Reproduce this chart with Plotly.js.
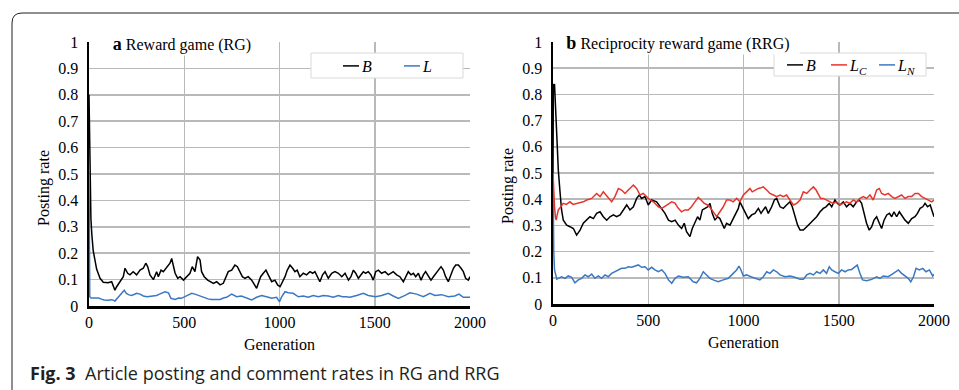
<!DOCTYPE html>
<html>
<head>
<meta charset="utf-8">
<script src="https://cdn.plot.ly/plotly-3.0.1.min.js"></script>
<style>html,body{margin:0;padding:0;background:#fff;}#chart{width:959px;height:390px;}</style>
</head>
<body>
<div id="chart"></div>
<script>
// ---- Data: [generation, posting rate] pairs ----
const rgB = [[0,0.80],[3,0.62],[6,0.45],[10,0.33],[15,0.27],[22,0.21],[31,0.175],[40,0.14],[50,0.12],[58,0.105],[75,0.09],[100,0.088],[119,0.092],[136,0.06],[145,0.073],[163,0.092],[180,0.111],[189,0.143],[203,0.124],[215,0.118],[232,0.13],[250,0.118],[268,0.136],[285,0.143],[298,0.162],[308,0.149],[320,0.118],[338,0.10],[355,0.13],[364,0.111],[378,0.136],[390,0.13],[408,0.149],[425,0.162],[434,0.18],[443,0.155],[452,0.124],[466,0.105],[478,0.111],[496,0.098],[513,0.111],[530,0.124],[542,0.149],[556,0.13],[570,0.187],[583,0.174],[591,0.13],[605,0.111],[623,0.098],[635,0.092],[653,0.086],[670,0.092],[688,0.08],[705,0.086],[719,0.111],[731,0.13],[749,0.136],[766,0.155],[779,0.149],[793,0.13],[805,0.111],[819,0.105],[836,0.111],[854,0.098],[868,0.08],[880,0.067],[889,0.086],[901,0.111],[915,0.124],[929,0.136],[941,0.118],[959,0.092],[976,0.098],[990,0.08],[1003,0.073],[1017,0.092],[1029,0.111],[1041,0.136],[1055,0.155],[1069,0.143],[1081,0.13],[1093,0.136],[1107,0.111],[1125,0.124],[1142,0.118],[1160,0.13],[1174,0.124],[1186,0.13],[1198,0.111],[1212,0.092],[1226,0.118],[1239,0.13],[1256,0.105],[1274,0.124],[1291,0.13],[1309,0.124],[1327,0.111],[1344,0.124],[1362,0.098],[1375,0.111],[1388,0.136],[1400,0.124],[1414,0.105],[1428,0.118],[1440,0.13],[1452,0.124],[1466,0.13],[1480,0.118],[1492,0.098],[1505,0.13],[1519,0.136],[1536,0.124],[1554,0.13],[1571,0.118],[1585,0.124],[1597,0.13],[1615,0.118],[1632,0.111],[1650,0.092],[1662,0.111],[1676,0.13],[1690,0.118],[1703,0.124],[1715,0.111],[1729,0.124],[1743,0.098],[1755,0.118],[1767,0.13],[1781,0.111],[1795,0.098],[1808,0.111],[1820,0.124],[1834,0.136],[1848,0.149],[1860,0.136],[1872,0.111],[1886,0.092],[1900,0.118],[1913,0.143],[1925,0.155],[1939,0.155],[1953,0.143],[1965,0.13],[1977,0.105],[1991,0.098],[2000,0.111]];

const rgL = [[0,0.5],[2,0.1],[4,0.035],[10,0.03],[30,0.029],[50,0.03],[65,0.026],[80,0.023],[100,0.022],[120,0.024],[136,0.019],[154,0.035],[171,0.048],[185,0.06],[196,0.048],[210,0.042],[224,0.04],[238,0.045],[250,0.048],[268,0.045],[285,0.038],[305,0.035],[329,0.038],[355,0.04],[370,0.045],[381,0.048],[399,0.054],[417,0.05],[430,0.029],[452,0.025],[470,0.03],[485,0.029],[504,0.035],[520,0.04],[539,0.048],[556,0.045],[575,0.04],[591,0.035],[610,0.029],[625,0.027],[643,0.025],[660,0.026],[688,0.025],[705,0.03],[722,0.033],[749,0.045],[775,0.035],[800,0.038],[828,0.029],[854,0.023],[880,0.033],[906,0.04],[932,0.035],[959,0.029],[985,0.033],[1000,0.016],[1011,0.035],[1029,0.054],[1046,0.05],[1072,0.048],[1099,0.035],[1125,0.038],[1151,0.033],[1177,0.04],[1204,0.035],[1230,0.04],[1256,0.038],[1282,0.033],[1309,0.04],[1330,0.035],[1350,0.035],[1370,0.033],[1405,0.04],[1440,0.048],[1466,0.04],[1505,0.035],[1536,0.04],[1571,0.048],[1597,0.038],[1624,0.029],[1659,0.04],[1685,0.05],[1720,0.045],[1755,0.035],[1790,0.048],[1816,0.04],[1851,0.043],[1886,0.035],[1920,0.038],[1942,0.045],[1965,0.033],[2000,0.033]];

const rrgB = [[0,0.5],[2,0.84],[5,0.82],[8,0.84],[12,0.76],[20,0.63],[28,0.51],[36,0.435],[45,0.359],[54,0.32],[72,0.301],[89,0.295],[107,0.288],[124,0.263],[142,0.282],[159,0.308],[177,0.32],[194,0.333],[212,0.326],[229,0.346],[247,0.352],[264,0.333],[282,0.32],[299,0.333],[317,0.34],[334,0.333],[352,0.34],[369,0.359],[387,0.378],[404,0.359],[422,0.371],[439,0.403],[453,0.416],[465,0.403],[483,0.41],[500,0.378],[518,0.397],[544,0.39],[562,0.371],[588,0.346],[606,0.32],[623,0.314],[641,0.32],[658,0.301],[675,0.288],[689,0.308],[701,0.276],[719,0.257],[731,0.288],[745,0.308],[759,0.333],[771,0.32],[784,0.359],[798,0.365],[812,0.371],[824,0.384],[836,0.346],[850,0.32],[864,0.333],[876,0.326],[889,0.308],[899,0.288],[911,0.308],[929,0.301],[946,0.326],[959,0.346],[973,0.365],[981,0.39],[994,0.371],[1008,0.352],[1025,0.326],[1043,0.34],[1060,0.346],[1078,0.365],[1092,0.346],[1104,0.359],[1116,0.371],[1130,0.346],[1148,0.371],[1162,0.397],[1174,0.403],[1192,0.371],[1209,0.365],[1226,0.378],[1244,0.39],[1256,0.371],[1270,0.333],[1284,0.301],[1297,0.282],[1314,0.282],[1332,0.295],[1349,0.308],[1367,0.32],[1384,0.333],[1402,0.352],[1419,0.365],[1433,0.371],[1450,0.384],[1463,0.371],[1480,0.397],[1493,0.384],[1506,0.378],[1524,0.39],[1541,0.371],[1559,0.384],[1576,0.371],[1594,0.39],[1608,0.397],[1620,0.384],[1632,0.346],[1646,0.308],[1660,0.282],[1673,0.295],[1685,0.32],[1699,0.333],[1713,0.308],[1725,0.288],[1738,0.32],[1752,0.34],[1766,0.346],[1778,0.333],[1790,0.352],[1804,0.333],[1818,0.352],[1830,0.34],[1848,0.32],[1865,0.308],[1883,0.326],[1900,0.333],[1913,0.346],[1927,0.365],[1941,0.371],[1953,0.384],[1966,0.371],[1980,0.378],[1992,0.352],[2000,0.333]];

const rrgLC = [[0,0.5],[3,0.42],[8,0.37],[13,0.33],[17,0.32],[22,0.34],[28,0.359],[40,0.37],[54,0.384],[70,0.38],[89,0.39],[105,0.38],[124,0.384],[140,0.388],[159,0.39],[177,0.397],[203,0.403],[229,0.422],[247,0.41],[264,0.428],[290,0.403],[308,0.39],[325,0.41],[343,0.441],[360,0.435],[378,0.422],[395,0.435],[422,0.454],[439,0.441],[457,0.416],[474,0.422],[492,0.41],[509,0.397],[527,0.39],[553,0.371],[571,0.365],[597,0.378],[623,0.39],[640,0.385],[658,0.365],[675,0.352],[692,0.359],[710,0.359],[727,0.371],[745,0.39],[762,0.407],[777,0.397],[794,0.384],[812,0.378],[829,0.365],[847,0.346],[859,0.333],[876,0.352],[894,0.371],[911,0.397],[929,0.397],[946,0.39],[964,0.403],[981,0.39],[999,0.416],[1016,0.428],[1034,0.441],[1046,0.428],[1060,0.435],[1078,0.441],[1092,0.444],[1104,0.447],[1122,0.435],[1139,0.422],[1157,0.416],[1174,0.41],[1192,0.416],[1209,0.41],[1226,0.416],[1244,0.397],[1262,0.378],[1279,0.384],[1297,0.397],[1314,0.428],[1332,0.422],[1349,0.435],[1367,0.447],[1381,0.435],[1393,0.416],[1405,0.403],[1419,0.403],[1436,0.397],[1454,0.39],[1471,0.384],[1489,0.39],[1506,0.378],[1524,0.384],[1541,0.39],[1559,0.384],[1576,0.397],[1594,0.39],[1611,0.403],[1629,0.41],[1646,0.403],[1664,0.416],[1681,0.397],[1699,0.435],[1713,0.441],[1725,0.422],[1743,0.416],[1760,0.422],[1778,0.41],[1795,0.403],[1813,0.41],[1830,0.416],[1848,0.403],[1865,0.41],[1883,0.41],[1900,0.422],[1918,0.422],[1935,0.41],[1953,0.403],[1970,0.397],[1988,0.39],[2000,0.397]];

const rrgLN = [[0,0.5],[2,0.3],[4,0.2],[8,0.13],[14,0.105],[20,0.095],[28,0.098],[45,0.104],[63,0.098],[80,0.107],[98,0.102],[115,0.081],[133,0.092],[150,0.098],[168,0.111],[185,0.104],[203,0.114],[220,0.098],[238,0.107],[255,0.098],[273,0.111],[290,0.104],[308,0.117],[325,0.123],[343,0.132],[360,0.136],[378,0.136],[395,0.142],[413,0.14],[430,0.145],[448,0.149],[465,0.14],[483,0.142],[500,0.13],[518,0.14],[535,0.13],[553,0.123],[571,0.13],[588,0.117],[606,0.092],[623,0.079],[641,0.098],[658,0.107],[684,0.102],[710,0.104],[736,0.085],[754,0.081],[771,0.098],[789,0.123],[806,0.111],[824,0.098],[841,0.092],[867,0.085],[894,0.092],[920,0.098],[946,0.117],[964,0.13],[976,0.145],[987,0.13],[999,0.107],[1016,0.111],[1039,0.104],[1060,0.098],[1086,0.092],[1104,0.104],[1122,0.123],[1139,0.117],[1157,0.13],[1174,0.123],[1192,0.111],[1218,0.104],[1244,0.107],[1270,0.102],[1297,0.094],[1314,0.094],[1332,0.111],[1349,0.117],[1367,0.111],[1384,0.123],[1402,0.117],[1419,0.13],[1436,0.117],[1450,0.142],[1463,0.13],[1480,0.123],[1498,0.117],[1515,0.13],[1533,0.123],[1550,0.13],[1568,0.132],[1585,0.142],[1597,0.149],[1611,0.117],[1625,0.092],[1646,0.089],[1673,0.094],[1699,0.104],[1716,0.098],[1734,0.107],[1760,0.104],[1787,0.117],[1813,0.13],[1830,0.117],[1848,0.107],[1865,0.098],[1878,0.085],[1892,0.104],[1906,0.136],[1923,0.13],[1941,0.136],[1958,0.123],[1976,0.13],[1993,0.107],[2000,0.114]];

const xTicks = [0, 500, 1000, 1500, 2000];
const yTicks = [0, 0.1, 0.2, 0.3, 0.4, 0.5, 0.6, 0.7, 0.8, 0.9, 1];
const yTickText = ['0','0.1','0.2','0.3','0.4','0.5','0.6','0.7','0.8','0.9','1'];
const panelTitles = ['<b><span style="font-size:18px">a</span></b> Reward game (RG)', '<b><span style="font-size:18px">b</span></b> Reciprocity reward game (RRG)'];
const seriesNames = {B: '<i>B</i>', L: '<i>L</i>', LC: '<i>L<sub>C</sub></i>', LN: '<i>L<sub>N</sub></i>'};
const axisTitleX = 'Generation';
const axisTitleY = 'Posting rate';
const caption = '<b>Fig. 3</b>&nbsp; Article posting and comment rates in RG and RRG';

// ---- Build ----
const W = 959, H = 390;
const px = v => v / W, py = v => 1 - v / H;
const BLACK = '#000000', BLUE = '#3a78c2', RED = '#e8352b';
const serif = 'Liberation Serif';

function tr(pairs, name, color, xa, ya, leg) {
  return {
    x: pairs.map(p => p[0]), y: pairs.map(p => p[1]),
    type: 'scatter', mode: 'lines', name: name,
    line: {color: color, width: 1.5},
    xaxis: xa, yaxis: ya, legend: leg, hoverinfo: 'skip'
  };
}

const data = [
  tr(rgB, seriesNames.B, BLACK, 'x', 'y', 'legend'),
  tr(rgL, seriesNames.L, BLUE, 'x', 'y', 'legend'),
  tr(rrgB, seriesNames.B, BLACK, 'x2', 'y2', 'legend2'),
  tr(rrgLC, seriesNames.LC, RED, 'x2', 'y2', 'legend3'),
  tr(rrgLN, seriesNames.LN, BLUE, 'x2', 'y2', 'legend4')
];

function xaxis(dom, anchor) {
  return {
    domain: dom, anchor: anchor, range: [0, 2000], tickvals: xTicks,
    showgrid: true, gridcolor: '#b9b9b9', gridwidth: 1.5,
    showline: true, linecolor: '#000', linewidth: 2.5, zeroline: false,
    ticks: '', ticklabelstandoff: 0, automargin: false,
    tickfont: {family: serif, size: 16, color: '#000'},
    title: {text: axisTitleX, font: {family: serif, size: 16, color: '#000'}, standoff: 9}
  };
}
function yaxis(dom, anchor) {
  return {
    domain: dom, anchor: anchor, range: [0, 1], tickvals: yTicks, ticktext: yTickText,
    showgrid: true, gridcolor: '#b9b9b9', gridwidth: 1.5,
    showline: true, linecolor: '#000', linewidth: 2.5, zeroline: false,
    ticks: '', ticklabelstandoff: 5, automargin: false,
    tickfont: {family: serif, size: 16, color: '#000'}
  };
}

function legendCfg(x, yc, ew) {
  const cfg = {
    x: x, y: yc, xanchor: 'left', yanchor: 'middle', orientation: 'h',
    bgcolor: 'rgba(0,0,0,0)', borderwidth: 0,
    font: {family: serif, size: 16, color: '#000'},
    itemwidth: 30, tracegroupgap: 0
  };
  if (ew !== null) { cfg.entrywidth = ew; cfg.entrywidthmode = 'pixels'; }
  return cfg;
}

function boxShape(x0, x1, y0, y1) {
  return {type: 'rect', xref: 'paper', yref: 'paper', layer: 'above',
    x0: px(x0), x1: px(x1), y0: py(y1), y1: py(y0),
    fillcolor: '#ffffff', line: {color: '#d9d9d9', width: 1}};
}

const layout = {
  width: W, height: H,
  margin: {l: 0, r: 0, t: 0, b: 0, pad: 0, autoexpand: false},
  paper_bgcolor: '#ffffff', plot_bgcolor: '#ffffff',
  showlegend: true,
  xaxis: xaxis([px(89), px(470)], 'y'),
  yaxis: yaxis([py(306), py(42)], 'x'),
  xaxis2: xaxis([px(553), px(934)], 'y2'),
  yaxis2: yaxis([py(304), py(42)], 'x2'),
  legend: legendCfg(px(322), py(66), 16),
  legend2: legendCfg(px(766), py(65), null),
  legend3: legendCfg(px(810), py(65), null),
  legend4: legendCfg(px(858), py(65), null),
  annotations: [
    {text: panelTitles[0], xref: 'paper', yref: 'paper', x: px(182), y: py(44), xanchor: 'center', yanchor: 'middle',
     showarrow: false, bgcolor: '#ffffff', width: 164, align: 'center', font: {family: serif, size: 16, color: '#000'}},
    {text: panelTitles[1], xref: 'paper', yref: 'paper', x: px(678), y: py(43), xanchor: 'center', yanchor: 'middle',
     showarrow: false, bgcolor: '#ffffff', width: 240, align: 'center', font: {family: serif, size: 16, color: '#000'}},
    {text: axisTitleY, xref: 'paper', yref: 'paper', x: px(44), y: py(188), textangle: -90, showarrow: false,
     xanchor: 'center', yanchor: 'middle', font: {family: serif, size: 16, color: '#000'}},
    {text: axisTitleY, xref: 'paper', yref: 'paper', x: px(508), y: py(186), textangle: -90, showarrow: false,
     xanchor: 'center', yanchor: 'middle', font: {family: serif, size: 16, color: '#000'}},
    {text: caption, xref: 'paper', yref: 'paper', x: px(28), y: py(373), xanchor: 'left', yanchor: 'middle',
     showarrow: false, font: {family: 'Open Sans', size: 18, color: '#231f20'}}
  ],
  shapes: [
    boxShape(311, 463, 53, 78),
    boxShape(774, 926, 53, 76),
    {type: 'path', xref: 'paper', yref: 'paper', layer: 'above',
     path: 'M ' + px(12) + ',-0.1 L ' + px(12) + ',' + py(23) + ' Q ' + px(12) + ',' + py(13) + ' ' + px(22) + ',' + py(13) + ' L 1.1,' + py(13),
     line: {color: '#231f20', width: 1}}
  ]
};

Plotly.newPlot('chart', data, layout, {staticPlot: true, displayModeBar: false}).then(function (gd) {
  // shorter legend keys, as in the original figure
  gd.querySelectorAll('.legendlines path').forEach(function (p) { p.setAttribute('d', 'M21,0h16'); });
});
</script>
</body>
</html>
